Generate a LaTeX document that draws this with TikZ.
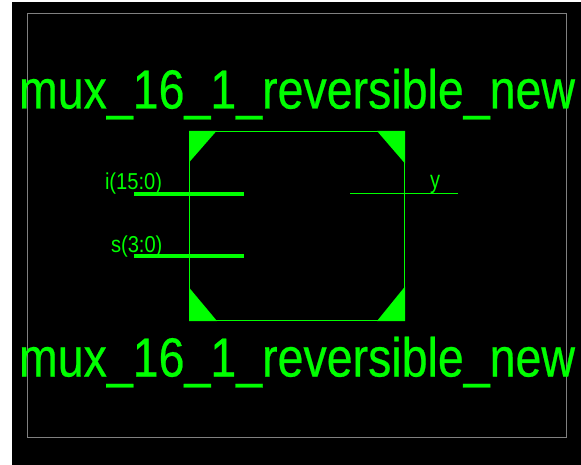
\documentclass[tikz,border=0pt]{standalone}
\usepackage{fontspec}
\setmainfont{Liberation Sans}
\newfontfamily\titlefont[FakeBold=0.5]{Liberation Sans}
\definecolor{neon}{RGB}{0,255,0}
\definecolor{framegray}{RGB}{128,128,128}
\newcommand{\titletext}{\scalebox{.846}[1]{\fontsize{55}{55}\titlefont mux\_16\_1\_reversible\_new}}
\newcommand{\pinlabel}[1]{\scalebox{.875}[1]{\fontsize{23}{23}\selectfont #1}}
\tikzset{
  x=1pt,y=-1pt,
  label text/.style={text=neon,inner sep=0pt,outer sep=0pt,anchor=base west},
  corner/.style={fill=neon,draw=none},
  busline/.style={draw=neon,line width=4pt},
  wireline/.style={draw=neon,line width=1pt},
  symbox/.style={draw=neon,line width=1pt,fill=none}
}
\begin{document}
\begin{tikzpicture}
\useasboundingbox (0,0) rectangle (581,465);
\fill[white] (0,0) rectangle (581,465);
\fill[black] (12,2) rectangle (581,465);
\draw[framegray,line width=1pt] (27.5,13.5) rectangle (566,437);
% symbol body
\coordinate (tl) at (189.5,131.5);
\coordinate (br) at (404.5,320.5);
\draw[symbox] (tl) rectangle (br);
\fill[corner] (189,131) -- (216.5,131) -- (189,162.5) -- cycle;
\fill[corner] (377,131) -- (405,131) -- (405,163.5) -- cycle;
\fill[corner] (189,287.5) -- (217,321) -- (189,321) -- cycle;
\fill[corner] (377,321) -- (405,321) -- (405,286.5) -- cycle;
% titles
\node[label text] (titletop) at (19,108.5) {\titletext};
\node[label text] (titlebot) at (19,376.5) {\titletext};
% pins
\coordinate (ia) at (134,194); \coordinate (ib) at (244,194);
\coordinate (sa) at (134,256); \coordinate (sb) at (244,256);
\coordinate (ya) at (350,193.5); \coordinate (yb) at (458,193.5);
\draw[busline] (ia) -- (ib);
\draw[busline] (sa) -- (sb);
\draw[wireline] (ya) -- (yb);
\node[label text] (ilabel) at (105,189.5) {\pinlabel{i(15:0)}};
\node[label text] (slabel) at (111,252) {\pinlabel{s(3:0)}};
\node[label text] (ylabel) at (430,188.5) {\scalebox{.8}[1]{\fontsize{25}{25}\selectfont y}};
\end{tikzpicture}
\end{document}
